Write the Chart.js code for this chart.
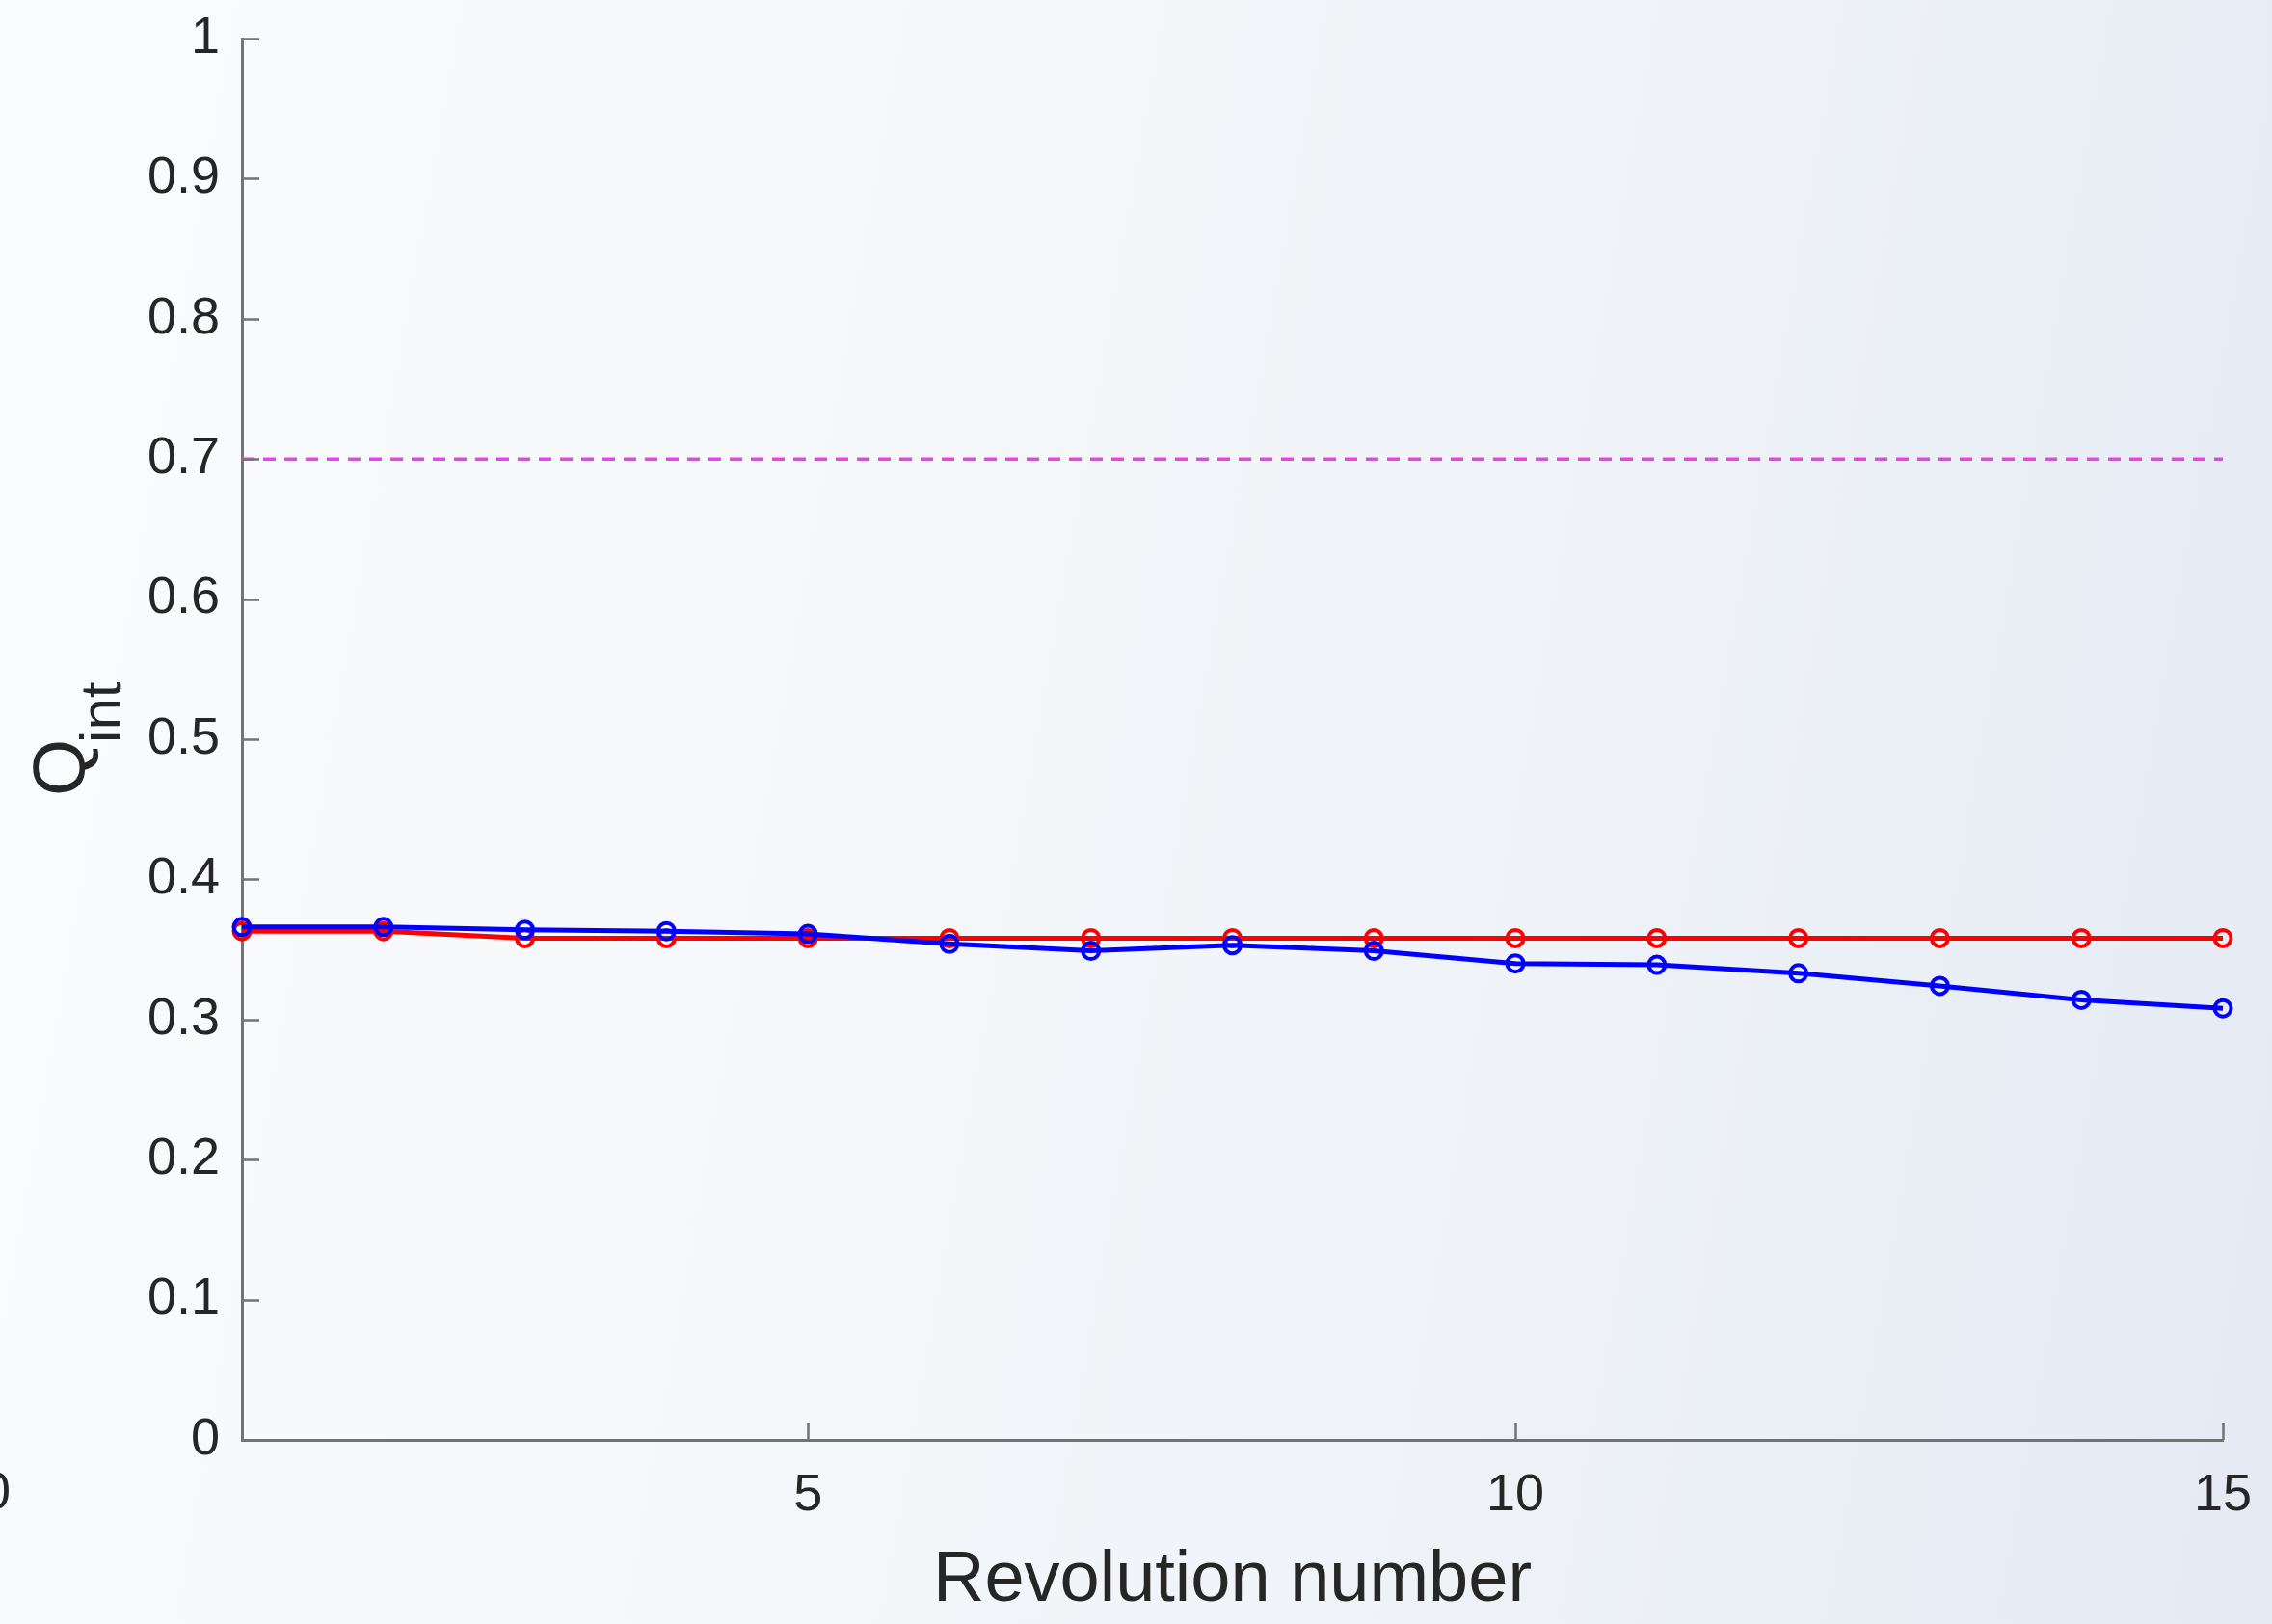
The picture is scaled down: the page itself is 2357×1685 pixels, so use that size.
<!DOCTYPE html>
<html>
<head>
<meta charset="utf-8">
<script src="https://cdn.jsdelivr.net/npm/chart.js@4.4.1/dist/chart.umd.min.js"></script>
<style>
  html, body { margin:0; padding:0; width:2357px; height:1685px; overflow:hidden; }
  body { background: linear-gradient(100deg, #fafbfc 0%, #f5f7fa 40%, #eef2f7 70%, #e4eaf4 100%); }
  #wrap { position:absolute; left:0; top:0; width:2357px; height:1685px; }
</style>
</head>
<body>
<div id="wrap"><canvas id="c" width="2357" height="1685"></canvas></div>
<script>
// ---- data ----
const revolutions = [1, 2, 3, 4, 5, 6, 7, 8, 9, 10, 11, 12, 13, 14, 15];
const blueValues  = [0.366, 0.366, 0.364, 0.363, 0.361, 0.354, 0.349, 0.353, 0.349, 0.340, 0.339, 0.333, 0.324, 0.314, 0.308];
const redValues   = [0.363, 0.363, 0.358, 0.358, 0.358, 0.358, 0.358, 0.358, 0.358, 0.358, 0.358, 0.358, 0.358, 0.358, 0.358];
const thresholdX  = [1, 15];
const thresholdY  = [0.7, 0.7];
const xTickValues = [5, 10, 15];
const yTickValues = [0, 0.1, 0.2, 0.3, 0.4, 0.5, 0.6, 0.7, 0.8, 0.9, 1];
const xTitle = 'Revolution number';
const yTitleMain = 'Q';
const yTitleSub = 'int';
const strayLabel = '0';

const FONT = '"Liberation Sans", Arial, Helvetica, sans-serif';
const AXIS_COLOR = '#737373';
const TEXT_COLOR = '#262626';

const toXY = (xs, ys) => xs.map((x, i) => ({ x: x, y: ys[i] }));

const decorPlugin = {
  id: 'decor',
  afterDraw(chart) {
    const ctx = chart.ctx;
    const xs = chart.scales.x, ys = chart.scales.y;
    const area = chart.chartArea;
    ctx.save();
    // inward ticks
    ctx.strokeStyle = AXIS_COLOR;
    ctx.lineWidth = 2.5;
    ctx.beginPath();
    yTickValues.forEach(v => {
      const py = Math.round(ys.getPixelForValue(v)) + 0.5;
      ctx.moveTo(area.left, py);
      ctx.lineTo(area.left + 18, py);
    });
    xTickValues.forEach(v => {
      const px = Math.round(xs.getPixelForValue(v)) + 0.5;
      ctx.moveTo(px, area.bottom);
      ctx.lineTo(px, area.bottom - 18);
    });
    ctx.stroke();
    // y axis title with subscript
    ctx.fillStyle = TEXT_COLOR;
    const cx = 87, cyBottom = 826;
    ctx.translate(cx, cyBottom);
    ctx.rotate(-Math.PI / 2);
    ctx.textBaseline = 'alphabetic';
    ctx.textAlign = 'left';
    ctx.font = '76px ' + FONT;
    ctx.fillText(yTitleMain, 0, 0);
    const qw = ctx.measureText(yTitleMain).width;
    ctx.font = '60px ' + FONT;
    ctx.fillText(yTitleSub, qw - 4, 38);
    ctx.restore();
    // stray clipped label at far left
    ctx.save();
    ctx.fillStyle = TEXT_COLOR;
    ctx.font = '54px ' + FONT;
    ctx.textAlign = 'center';
    ctx.textBaseline = 'middle';
    ctx.fillText(strayLabel, -4, xs.top + 56);
    ctx.restore();
  }
};

new Chart(document.getElementById('c'), {
  type: 'line',
  data: {
    datasets: [
      {
        label: 'blue',
        data: toXY(revolutions, blueValues),
        borderColor: '#0000ff',
        backgroundColor: 'rgba(0,0,0,0)',
        borderWidth: 5,
        pointRadius: 8.5,
        pointBorderWidth: 4,
        pointBorderColor: '#0000ff',
        pointBackgroundColor: 'rgba(0,0,0,0)',
        tension: 0,
        clip: false
      },
      {
        label: 'red',
        data: toXY(revolutions, redValues),
        borderColor: '#ff0000',
        backgroundColor: 'rgba(0,0,0,0)',
        borderWidth: 5,
        pointRadius: 8.5,
        pointBorderWidth: 4,
        pointBorderColor: '#ff0000',
        pointBackgroundColor: 'rgba(0,0,0,0)',
        tension: 0,
        clip: false
      },
      {
        label: 'threshold',
        data: toXY(thresholdX, thresholdY),
        borderColor: '#f23cf2',
        borderWidth: 3.5,
        borderDash: [13, 9],
        pointRadius: 0,
        tension: 0,
        clip: false
      }
    ]
  },
  options: {
    responsive: false,
    animation: false,
    events: [],
    layout: { padding: { left: 0, right: 51, top: 40, bottom: 0 } },
    plugins: { legend: { display: false }, tooltip: { enabled: false } },
    scales: {
      x: {
        type: 'linear',
        min: 1, max: 15,
        grid: { display: false, drawTicks: false },
        border: { display: true, color: AXIS_COLOR, width: 3 },
        afterBuildTicks: s => { s.ticks = xTickValues.map(v => ({ value: v })); },
        afterFit: s => { s.height = 191; s.paddingLeft = 0; s.paddingRight = 0; },
        ticks: {
          autoSkip: false, maxRotation: 0,
          padding: 26,
          color: TEXT_COLOR,
          font: { family: FONT, size: 54 },
          callback: v => String(v)
        },
        title: {
          display: true, text: xTitle, color: TEXT_COLOR,
          font: { family: FONT, size: 74 },
          padding: { top: 0, bottom: 0 }
        }
      },
      y: {
        type: 'linear',
        min: 0, max: 1,
        grid: { display: false, drawTicks: false },
        border: { display: true, color: AXIS_COLOR, width: 3 },
        afterBuildTicks: s => { s.ticks = yTickValues.map(v => ({ value: v })); },
        afterFit: s => { s.width = 251; s.paddingTop = 0; s.paddingBottom = 0; },
        ticks: {
          autoSkip: false,
          padding: 23,
          color: TEXT_COLOR,
          font: { family: FONT, size: 54 },
          callback: v => String(Number(v.toFixed(1)))
        }
      }
    }
  },
  plugins: [decorPlugin]
});
</script>
</body>
</html>
